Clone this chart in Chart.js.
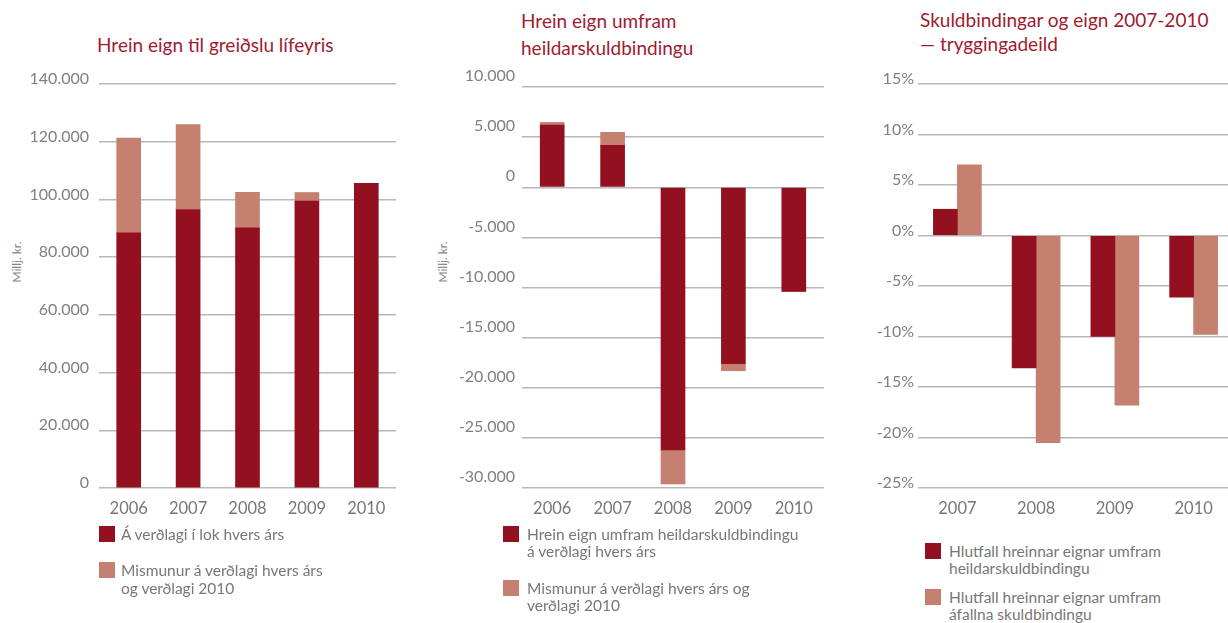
<!DOCTYPE html>
<html>
<head>
<meta charset="utf-8">
<script src="https://cdn.jsdelivr.net/npm/chart.js@4"></script>
<style>
body{margin:0;width:1228px;height:623px;overflow:hidden;background:#fff;font-family:Lato,sans-serif;position:relative}
canvas{position:absolute}
.title{position:absolute;color:#a01b30;font-size:19px;white-space:nowrap}
.ytitle{position:absolute;color:#888;font-size:12px;white-space:nowrap;transform:translate(-50%,-50%) rotate(-90deg)}
.leg{position:absolute;color:#777;font-size:15.5px}
.leg .sw{position:absolute;left:0;top:0;width:16px;height:16px}
.leg .tx{position:absolute;white-space:nowrap}
</style>
</head>
<body>
<div class="title" style="left:97px;top:32px;line-height:26px">Hrein eign til greiðslu lífeyris</div>
<div class="title" style="left:521px;top:7px;line-height:27px">Hrein eign umfram<br>heildarskuldbindingu</div>
<div class="title" style="left:920px;top:8px;line-height:24px">Skuldbindingar og eign 2007-2010<br>— tryggingadeild</div>
<div class="ytitle" style="left:16px;top:262px">Millj. kr.</div>
<div class="ytitle" style="left:442px;top:262px">Millj. kr.</div>

<canvas id="c1" width="410" height="470" style="left:0;top:60px"></canvas>
<canvas id="c2" width="410" height="470" style="left:420px;top:60px"></canvas>
<canvas id="c3" width="400" height="470" style="left:840px;top:60px"></canvas>

<div id="leg1"></div>
<div id="leg2"></div>
<div id="leg3"></div>

<script>
// colours
var darkRed = '#931020';
var lightRed = '#c58070';

// chart 1: Hrein eign til greiðslu lífeyris
var years1 = ['2006', '2007', '2008', '2009', '2010'];
var verdlagLok = [88400, 96500, 90200, 99400, 105600];
var mismunur1 = [32900, 29400, 12300, 3000, 0];
var legend1 = [['Á verðlagi í lok hvers árs'], ['Mismunur á verðlagi hvers árs', 'og verðlagi 2010']];

// chart 2: Hrein eign umfram heildarskuldbindingu
var years2 = ['2006', '2007', '2008', '2009', '2010'];
var hreinEign = [6200, 4180, -26200, -17600, -10400];
var mismunur2 = [270, 1300, -3400, -700, 0];
var legend2 = [['Hrein eign umfram heildarskuldbindingu', 'á verðlagi hvers árs'], ['Mismunur á verðlagi hvers árs og', 'verðlagi 2010']];

// chart 3: Skuldbindingar og eign 2007-2010, tryggingadeild (%)
var years3 = ['2007', '2008', '2009', '2010'];
var hlutfallHeild = [2.6, -13.1, -10.0, -6.1];
var hlutfallAfallin = [7.0, -20.5, -16.8, -9.8];
var legend3 = [['Hlutfall hreinnar eignar umfram', 'heildarskuldbindingu'], ['Hlutfall hreinnar eignar umfram', 'áfallna skuldbindingu']];

function thousands(v) {
	var s = Math.abs(v).toString().replace(/\B(?=(\d{3})+(?!\d))/g, '.');
	return (v < 0 ? '-' : '') + s;
}
function percent(v) {
	return (v < 0 ? '-' : '') + Math.abs(v) + '%';
}

function makeOptions(o) {
	return {
		responsive: false,
		maintainAspectRatio: false,
		animation: false,
		layout: { padding: { top: o.padTop, right: o.padRight, left: 0, bottom: 0 } },
		plugins: { legend: { display: false }, tooltip: { enabled: false } },
		scales: {
			x: {
				stacked: o.stacked,
				grid: { display: false },
				border: { display: false },
				ticks: { color: '#777', font: { family: 'Lato', size: 16.5 }, padding: 3 },
				afterFit: function(s) { s.height = 42; }
			},
			y: {
				stacked: o.stacked,
				min: o.min,
				max: o.max,
				border: { display: false },
				grid: { color: '#b8b8b8', lineWidth: 1.5, drawTicks: false },
				ticks: {
					stepSize: o.step,
					color: '#808080',
					font: { family: 'Lato', size: 16 },
					padding: o.tickPad,
					labelOffset: o.labelOffset,
					callback: o.fmt
				},
				afterFit: function(s) { s.width = o.yWidth; }
			}
		}
	};
}

function datasets(labels, a, b) {
	return [
		{ label: labels[0].join(' '), data: a, backgroundColor: darkRed, barThickness: 24, borderWidth: 0 },
		{ label: labels[1].join(' '), data: b, backgroundColor: lightRed, barThickness: 24, borderWidth: 0 }
	];
}

var chart1 = new Chart(document.getElementById('c1'), {
	type: 'bar',
	data: { labels: years1, datasets: datasets(legend1, verdlagLok, mismunur1) },
	options: makeOptions({ stacked: true, min: 0, max: 140000, step: 20000, fmt: thousands,
		yWidth: 99, padTop: 24, padRight: 14, tickPad: 10, labelOffset: -5 })
});

var chart2 = new Chart(document.getElementById('c2'), {
	type: 'bar',
	data: { labels: years2, datasets: datasets(legend2, hreinEign, mismunur2) },
	options: makeOptions({ stacked: true, min: -30000, max: 10000, step: 5000, fmt: thousands,
		yWidth: 102, padTop: 27, padRight: 6, tickPad: 7, labelOffset: -11 })
});

var chart3 = new Chart(document.getElementById('c3'), {
	type: 'bar',
	data: { labels: years3, datasets: datasets(legend3, hlutfallHeild, hlutfallAfallin) },
	options: makeOptions({ stacked: false, min: -25, max: 15, step: 5, fmt: percent,
		yWidth: 78, padTop: 24, padRight: 7, tickPad: 4, labelOffset: -5 })
});

// html legend, built from the chart's datasets
function buildLegend(id, chart, lines, left, tops, lineHeight, textLeft) {
	var el = document.getElementById(id);
	chart.data.datasets.forEach(function(ds, i) {
		var item = document.createElement('div');
		item.className = 'leg';
		item.style.left = left + 'px';
		item.style.top = tops[i] + 'px';
		item.style.lineHeight = lineHeight + 'px';
		item.innerHTML = '<div class="sw" style="background:' + ds.backgroundColor + '"></div>' +
			'<div class="tx" style="left:' + textLeft + 'px;top:' + (8 - lineHeight / 2) + 'px">' + lines[i].join('<br>') + '</div>';
		el.appendChild(item);
	});
}
buildLegend('leg1', chart1, legend1, 99, [526, 562], 18, 22);
buildLegend('leg2', chart2, legend2, 503, [526, 580], 17, 24);
buildLegend('leg3', chart3, legend3, 925, [543, 589], 17, 24);
</script>
</body>
</html>
